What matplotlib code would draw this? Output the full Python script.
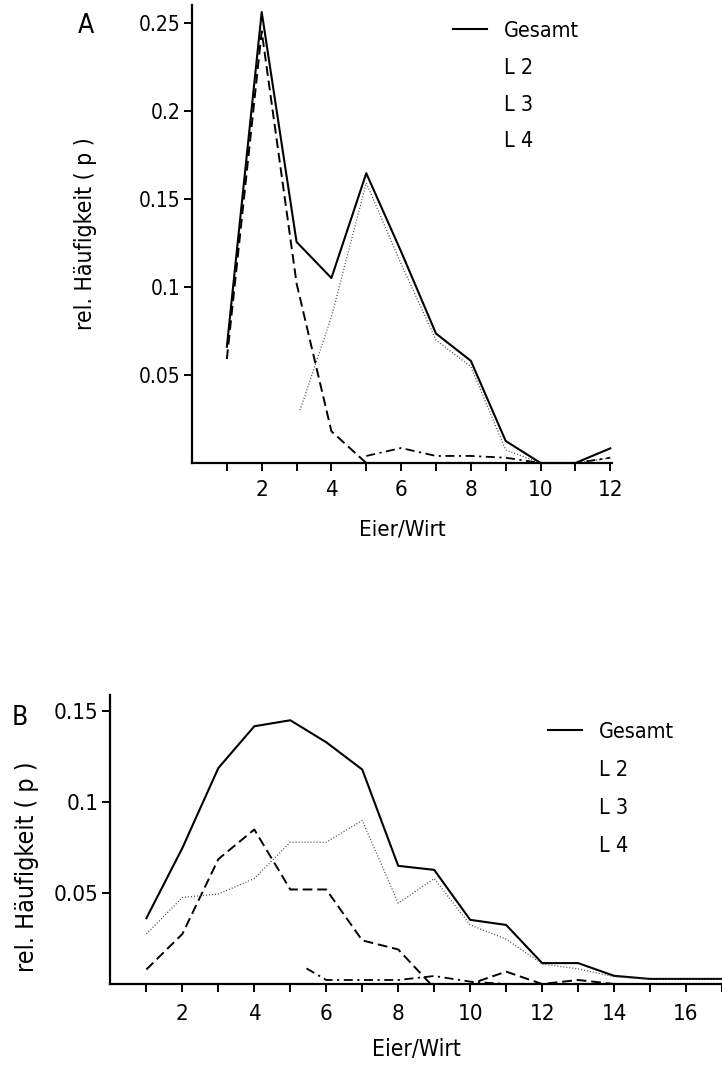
import matplotlib
matplotlib.use("Agg")
import matplotlib.pyplot as plt
from matplotlib.lines import Line2D
from matplotlib import font_manager as fm
from matplotlib.text import Text

# pick a narrow / condensed regular face if one is installed
_pref = ["Liberation Sans Narrow", "DejaVu Sans", "Roboto Condensed", "Open Sans Condensed",
         "Open Sans", "Noto Sans", "Roboto", "Arial Narrow"]
_narrow = None
_cands = []
for f in fm.fontManager.ttflist:
    st = str(f.stretch).lower()
    nm = f.name
    is_narrow = ("condensed" in st) or ("narrow" in nm.lower()) or ("condensed" in nm.lower())
    if not is_narrow or "extra" in st or "ultra" in st:
        continue
    w = f.weight
    try:
        w = int(w)
    except Exception:
        w = 400 if str(w) in ("normal", "regular", "book") else 700
    if w != 400 or f.style != "normal":
        continue
    rank = _pref.index(nm) if nm in _pref else len(_pref)
    if "semi" in st:
        rank += 0.5
    _cands.append((rank, f.fname))
if _cands:
    _cands.sort()
    _narrow = _cands[0][1]

plt.rcParams['font.family'] = ['DejaVu Sans']

# ---------------- Panel A data ----------------
a_x_total = [1, 2, 3, 4, 5, 6, 7, 8, 9, 10, 11, 12]
a_total = [0.066, 0.256, 0.1255, 0.105, 0.1645, 0.12, 0.0735, 0.058, 0.0125, 0.0, 0.0, 0.0083]
a_x_l2 = [1, 2, 3, 4, 5]
a_l2 = [0.059, 0.245, 0.102, 0.018, 0.0]
a_x_l3 = [3.1, 4, 5, 6, 7, 8, 9, 10, 11, 12]
a_l3 = [0.030, 0.083, 0.159, 0.113, 0.0698, 0.0547, 0.0074, 0.0, 0.0, 0.0028]
a_x_l4 = [5, 6, 7, 8, 9, 10, 11, 12]
a_l4 = [0.004, 0.0085, 0.004, 0.004, 0.003, 0.0, 0.0, 0.003]
a_yticks = [0.05, 0.1, 0.15, 0.2, 0.25]
a_yticklabels = ["0.05", "0.1", "0.15", "0.2", "0.25"]
a_xticks = list(range(1, 13))
a_xticklabels = ["" if v % 2 else str(v) for v in a_xticks]

# ---------------- Panel B data ----------------
b_x_total = list(range(1, 18))
b_total = [0.0362, 0.0748, 0.1188, 0.1418, 0.1451, 0.133, 0.118, 0.065, 0.0628,
           0.0353, 0.0325, 0.0115, 0.0115, 0.0045, 0.0028, 0.0028, 0.0028]
b_x_l2 = [1, 2, 3, 4, 5, 6, 7, 8, 8.9, 10, 11, 12, 13, 14, 15, 16, 17]
b_l2 = [0.008, 0.0275, 0.0687, 0.085, 0.052, 0.052, 0.024, 0.019, 0.0,
        0.0, 0.0068, 0.0, 0.0022, 0.0, 0.0, 0.0, 0.0]
b_x_l3 = list(range(1, 18))
b_l3 = [0.0275, 0.0476, 0.0495, 0.058, 0.078, 0.078, 0.090, 0.0445, 0.058,
        0.0325, 0.0247, 0.0110, 0.0083, 0.0040, 0.0027, 0.0027, 0.0027]
b_x_l4 = [5.45, 6, 7, 8, 9, 10, 11, 12]
b_l4 = [0.0086, 0.0022, 0.0022, 0.0022, 0.0044, 0.0013, 0.0, 0.0]
b_yticks = [0.05, 0.1, 0.15]
b_yticklabels = ["0.05", "0.1", "0.15"]
b_xticks = list(range(1, 18))
b_xticklabels = ["" if v % 2 else str(v) for v in b_xticks]

legend_labels = ["Gesamt", "L 2", "L 3", "L 4"]

W, H = 722, 1068
fig = plt.figure(figsize=(W / 100, H / 100), dpi=100)


def px_axes(l, t, r, b):
    return fig.add_axes([l / W, 1 - b / H, (r - l) / W, (b - t) / H])


def style(ax, xticks, xticklabels, yticks, yticklabels, xpad, fs_x, fs_y):
    for s in ("top", "right"):
        ax.spines[s].set_visible(False)
    for s in ("left", "bottom"):
        ax.spines[s].set_linewidth(1.6)
    ax.set_xticks(xticks)
    ax.set_xticklabels(xticklabels, fontsize=fs_x)
    ax.set_yticks(yticks)
    ax.set_yticklabels(yticklabels, fontsize=fs_y)
    ax.tick_params(axis="x", direction="out", length=5.5, width=1.4, pad=xpad)
    ax.tick_params(axis="y", direction="out", length=5.5, width=1.4, pad=3)


dash = (0, (5, 2.5))
dashdot = (0, (5, 2.5, 1.2, 2.5))
dot = (0, (0.8, 1.6))

# ---------------- Panel A ----------------
axA = px_axes(192, 5, 612, 463)
axA.plot(a_x_total, a_total, color="black", lw=1.5, clip_on=False)
axA.plot(a_x_l2, a_l2, color="black", lw=1.4, ls=dash, clip_on=False)
axA.plot(a_x_l3, a_l3, color="#444444", lw=0.9, ls=dot, clip_on=False)
axA.plot(a_x_l4, a_l4, color="black", lw=1.3, ls=dashdot, clip_on=False)
axA.set_xlim(0, 12.05)
axA.set_ylim(0, 0.26)
style(axA, a_xticks, a_xticklabels, a_yticks, a_yticklabels, 7, 16, 15)
axA.set_xlabel("Eier/Wirt", fontsize=16, labelpad=14)
axA.set_ylabel("rel. Häufigkeit ( p )", fontsize=16.5)
axA.yaxis.set_label_coords(-0.226, 0.5)
fig.text(78 / W, 1 - 33 / H, "A", fontsize=19, ha="left", va="baseline")

handles = [Line2D([], [], color="black", lw=1.5)] + [Line2D([], [], color="none") for _ in range(3)]
fig.legend(handles, legend_labels, loc="upper left", bbox_to_anchor=(453 / W, 1 - 21 / H),
           frameon=False, fontsize=15.5, handlelength=1.6, handletextpad=0.75,
           labelspacing=0.78, borderpad=0, borderaxespad=0)

# ---------------- Panel B ----------------
axB = px_axes(110.4, 695, 722, 984)
axB.plot(b_x_total, b_total, color="black", lw=1.5)
axB.plot(b_x_l2, b_l2, color="black", lw=1.4, ls=dash)
axB.plot(b_x_l3, b_l3, color="#444444", lw=0.9, ls=dot)
axB.plot(b_x_l4, b_l4, color="black", lw=1.3, ls=dashdot)
axB.set_xlim(0, 16.85)
axB.set_ylim(0, 0.159)
style(axB, b_xticks, b_xticklabels, b_yticks, b_yticklabels, 9, 16, 16)
axB.set_xlabel("Eier/Wirt", fontsize=16.5, labelpad=10)
axB.set_ylabel("rel. Häufigkeit ( p )", fontsize=18)
axB.yaxis.set_label_coords(-0.117, 0.405)
fig.text(12 / W, 1 - 725 / H, "B", fontsize=19, ha="left", va="baseline")

fig.legend(handles, legend_labels, loc="upper left", bbox_to_anchor=(548 / W, 1 - 722 / H),
           frameon=False, fontsize=15.5, handlelength=1.6, handletextpad=0.75,
           labelspacing=0.84, borderpad=0, borderaxespad=0)

# apply the narrow face to every text element
if _narrow is not None:
    for t in fig.findobj(Text):
        t.set_fontproperties(fm.FontProperties(fname=_narrow, size=t.get_fontsize()))

fig.savefig("out.png", dpi=100)
